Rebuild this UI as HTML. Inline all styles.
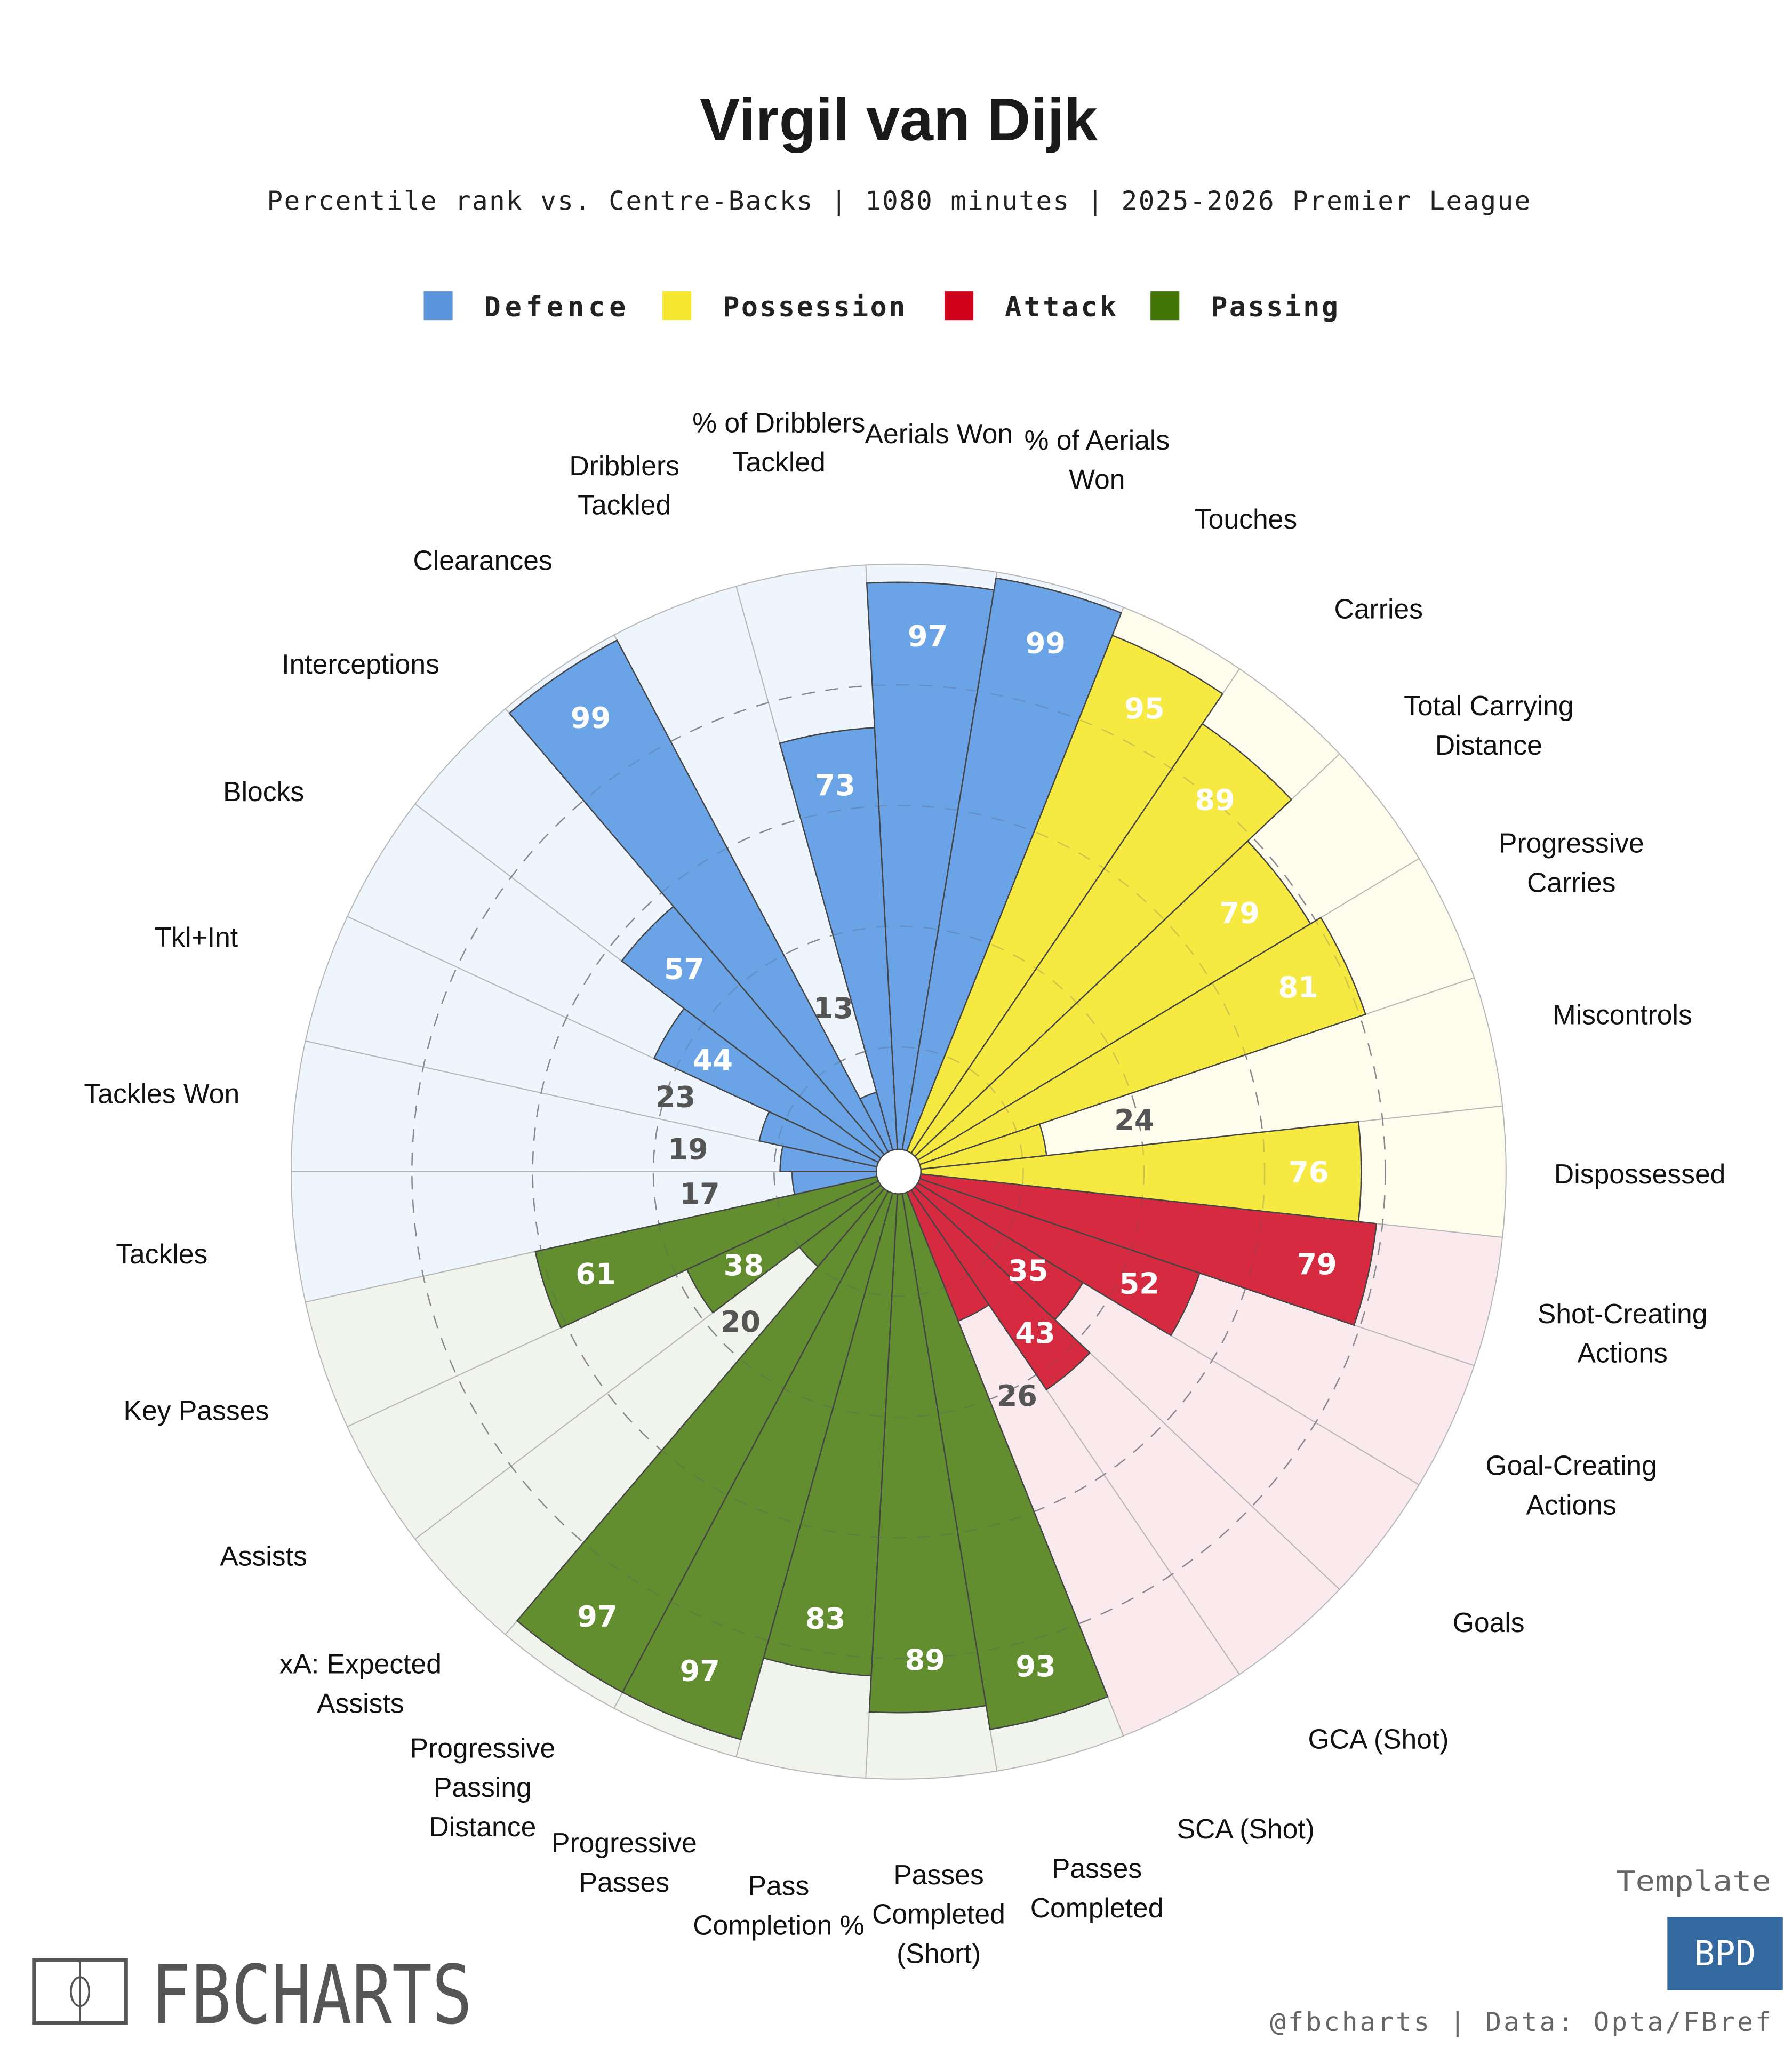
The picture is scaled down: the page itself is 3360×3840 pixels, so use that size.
<!DOCTYPE html>
<html><head><meta charset="utf-8">
<style>
html,body{margin:0;padding:0;background:#fff;}
svg{display:block;}
</style></head>
<body>
<svg id="chart" xmlns="http://www.w3.org/2000/svg" width="3360" height="3840" viewBox="0 0 1366 1561" preserveAspectRatio="none">
<rect x="0" y="0" width="1366" height="1561" fill="#ffffff"/>
<text x="685" y="107" text-anchor="middle" font-family="Liberation Sans, sans-serif" font-weight="bold" font-size="46" fill="#1a1a1a">Virgil van Dijk</text>
<text x="685" y="160" text-anchor="middle" font-family="DejaVu Sans Mono, monospace" font-size="20" fill="#222" textLength="963" lengthAdjust="spacing">Percentile rank vs. Centre-Backs | 1080 minutes | 2025-2026 Premier League</text>
<g id="legend"></g>
<g id="bg"></g>
<g id="grid"></g>
<g id="bars"></g>
<g id="grid2"></g>
<circle cx="685" cy="893" r="17" fill="#fff" stroke="#444" stroke-width="1"/>
<g id="vals"></g>
<g id="cats"></g>
<g>
<rect x="26" y="1494" width="70" height="48" fill="none" stroke="#555" stroke-width="3"/>
<line x1="61" y1="1494" x2="61" y2="1542" stroke="#555" stroke-width="1.5"/>
<ellipse cx="61" cy="1518" rx="7" ry="11" fill="none" stroke="#555" stroke-width="1.5"/>
<text x="115" y="1542" font-family="DejaVu Sans Mono, monospace" font-size="62" fill="#555" textLength="245" lengthAdjust="spacingAndGlyphs">FBCHARTS</text>
</g>
<text x="1350" y="1441" text-anchor="end" font-family="DejaVu Sans Mono, monospace" font-size="21" fill="#666" textLength="118" lengthAdjust="spacingAndGlyphs">Template</text>
<rect x="1271" y="1461" width="88" height="56" fill="#356aa0"/>
<text x="1315" y="1498" text-anchor="middle" font-family="DejaVu Sans Mono, monospace" font-size="26" fill="#fff">BPD</text>
<text x="1350" y="1548" text-anchor="end" font-family="DejaVu Sans Mono, monospace" font-size="20" fill="#666" textLength="382" lengthAdjust="spacing">@fbcharts | Data: Opta/FBref</text>
</svg>
<script>
const categories = ["Tackles","Tackles Won","Tkl+Int","Blocks","Interceptions","Clearances","Dribblers|Tackled","% of Dribblers|Tackled","Aerials Won","% of Aerials|Won","Touches","Carries","Total Carrying|Distance","Progressive|Carries","Miscontrols","Dispossessed","Shot-Creating|Actions","Goal-Creating|Actions","Goals","GCA (Shot)","SCA (Shot)","Passes|Completed","Passes|Completed|(Short)","Pass|Completion %","Progressive|Passes","Progressive|Passing|Distance","xA: Expected|Assists","Assists","Key Passes"];
const values = [17,19,23,44,57,99,13,73,97,99,95,89,79,81,24,76,79,52,35,43,26,93,89,83,97,97,20,38,61];
const groups = ["D","D","D","D","D","D","D","D","D","D","P","P","P","P","P","P","A","A","A","A","A","S","S","S","S","S","S","S","S"];
const groupNames = ["Defence","Possession","Attack","Passing"];
const gridTicks = [20,40,60,80];

const NS="http://www.w3.org/2000/svg";
const cx=685, cy=893;
const barCol={D:"#6aa3e6",P:"#f5e942",A:"#d62a40",S:"#628e30"};
const bgCol={D:"#eff5fc",P:"#fefcec",A:"#fbeaed",S:"#f1f4ec"};
const legCol=["#5b96dd","#f5e62e","#d0021b","#417505"];
const n=values.length, step=360/n;
function rScale(v){return 3+4.6*v;}
function angCenter(i){return 186.2-i*step;}
function pt(a,r){const t=a*Math.PI/180;return [cx+r*Math.cos(t), cy-r*Math.sin(t)];}
function wedge(a1,a2,r){const p1=pt(a1,r),p2=pt(a2,r);return `M${cx},${cy} L${p1[0]},${p1[1]} A${r},${r} 0 0 1 ${p2[0]},${p2[1]} Z`;}
function mk(tag,attrs,parent){const e=document.createElementNS(NS,tag);for(const k in attrs)e.setAttribute(k,attrs[k]);parent.appendChild(e);return e;}

const bg=document.getElementById('bg'),bars=document.getElementById('bars'),vals=document.getElementById('vals'),cats=document.getElementById('cats');
for(let i=0;i<n;i++){
  const a=angCenter(i), a1=a+step/2, a2=a-step/2, g=groups[i];
  const b=mk('path',{d:wedge(a1,a2,rScale(100)),fill:bgCol[g],stroke:"#b5b5b5","stroke-width":0.8},bg);
  
  
  const p=mk('path',{d:wedge(a1,a2,rScale(values[i])),fill:barCol[g],stroke:"#444","stroke-width":1},bars);
  
  
  const v=values[i], small=v<30;
  const lr= small ? 76+4.5*v : rScale(v)-40;
  const lp=pt(a,lr);
  const t=mk('text',{x:lp[0],y:lp[1]+8,"text-anchor":"middle","font-family":"DejaVu Sans, sans-serif","font-weight":"bold","font-size":22,fill:small?"#555":"#fff"},vals);
  t.textContent=v;
  
  
  const lines=categories[i].split('|');
  const cp=pt(a,565);
  const lh=30, y0=cp[1]+9-(lines.length-1)*lh/2;
  const ct=mk('text',{"text-anchor":"middle","font-family":"Liberation Sans, sans-serif","font-size":21,fill:"#111"},cats);
  
  
  lines.forEach((ln,k)=>{const s=mk('tspan',{x:cp[0],y:y0+k*lh},ct);s.textContent=ln;});
}
["grid","grid2"].forEach((id,j)=>{
  const gg=document.getElementById(id);
  gridTicks.forEach(tk=>{
    const c=mk('circle',{cx:cx,cy:cy,r:rScale(tk),fill:"none",stroke:j?"#556":"#999","stroke-width":1,"stroke-dasharray":"10,8",opacity:j?0.25:1},gg);
    
    
  });
});
const leg=document.getElementById('legend');
const legX=[323,505,720,877];
const legW=[108,139,85,97];
groupNames.forEach((nm,k)=>{
  const r=mk('rect',{x:legX[k],y:222,width:22,height:22,fill:legCol[k]},leg);
  
  
  const t=mk('text',{x:legX[k]+46,y:241,"font-family":"DejaVu Sans Mono, monospace","font-weight":"bold","font-size":21,textLength:legW[k],lengthAdjust:"spacing",fill:"#222"},leg);
  t.textContent=nm;
  
  
});
</script>
</body></html>
